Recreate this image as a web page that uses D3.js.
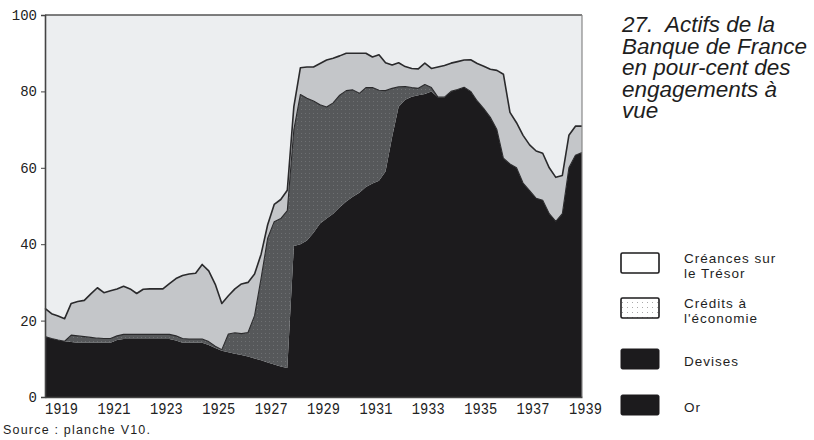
<!DOCTYPE html>
<html><head><meta charset="utf-8">
<script src="https://cdn.jsdelivr.net/npm/d3@7"></script>
<style>
html,body{margin:0;padding:0;background:#fff;}
svg{display:block;}
</style></head>
<body>
<svg id="chart" width="814" height="440"></svg>
<script>
// quarterly observations from mid-1918 to 1939
const startYear = 1918.5;
const step = 0.25;
const or = [15.8,15.3,14.9,14.6,14.4,14.2,14.2,14.2,14.2,14.2,14.2,14.9,
  15.2,15.2,15.2,15.2,15.2,15.2,15.2,15.2,14.8,14.2,14.2,14.2,14.2,13.6,12.8,12.1,
  11.7,11.3,11.0,10.6,10.1,9.6,9.0,8.5,8.0,7.6,39.5,40,41,43,45.4,46.7,48,49.7,
  51.2,52.4,53.5,55,55.9,56.6,59,68,76,77.8,78.6,79,79.3,80,78.5,78.5,80,80.5,81.1,
  80,77.5,75.5,73.2,70,62.5,61,60,56,54,52,51.5,48,46,48,60,63.3,64];
const devises = [0,0,0,0,1.8,1.8,1.6,1.4,1.2,1.1,1.1,1.1,
  1.2,1.2,1.2,1.2,1.2,1.2,1.2,1.2,1.2,1.1,1.0,1.0,1.0,0.9,0.5,0.3,
  4.8,5.5,5.6,6.3,11.2,21.5,32.6,37.4,38.7,41.2,30.5,39.2,37.2,34.5,31.1,29.2,29,29.3,
  29,28,26,26,25.1,23.7,21.2,12.8,5.2,3.5,2.4,1.8,2.5,1.0,0,0,0,0,0,
  0,0,0,0,0,0,0,0,0,0,0,0,0,0,0,0,0,0];
const credits = [7.4,6.5,6.3,5.9,8.3,9.0,9.5,11.4,13.2,12.0,12.5,12.3,
  12.6,11.9,10.7,11.8,11.9,11.9,11.9,13.3,15.0,16.5,17.0,17.2,19.5,18.5,16.2,12.1,
  10.0,11.5,13.0,13.1,10.9,6.3,3.5,4.5,5.0,5.3,6.0,7.0,8.2,8.9,10.8,12.3,11.7,10.3,
  9.8,9.6,10.5,9.0,8.0,9.3,7.3,6.1,6.3,5.2,5.0,5.1,5.6,5.0,7.9,8.3,7.4,7.3,7.1,
  8.3,9.8,11.1,12.6,15.5,22,13.5,11.8,12.5,12,12.4,12.3,12,11.5,10,8.5,7.6,6.9];
const xTicks = [1919,1921,1923,1925,1927,1929,1931,1933,1935,1937,1939];
const yTicks = [0,20,40,60,80,100];
const titleLines = ["27.  Actifs de la","Banque de France","en pour-cent des","engagements à","vue"];
const legendItems = [["Créances sur","le Trésor"],["Crédits à","l'économie"],["Devises"],["Or"]];
const sourceText = "Source : planche V10.";

const data = or.map((v,i)=>({year:startYear+i*step, or:v, devises:devises[i], credits:credits[i]}));

const svg = d3.select("#chart");
const L=45, R=582, T=15, B=397;
const x = d3.scaleLinear().domain([1918.5,1939]).range([L,R]);
const y = d3.scaleLinear().domain([0,100]).range([B,T]);

const defs = svg.append("defs");
const pat = defs.append("pattern").attr("id","dots").attr("width",4).attr("height",4)
  .attr("patternUnits","userSpaceOnUse");
pat.append("rect").attr("width",4).attr("height",4).attr("fill","#56585a");
pat.append("rect").attr("x",1).attr("y",1).attr("width",1).attr("height",1).attr("fill","#6e7072");
const pat2 = defs.append("pattern").attr("id","dots2").attr("width",5).attr("height",5)
  .attr("patternUnits","userSpaceOnUse");
pat2.append("rect").attr("width",5).attr("height",5).attr("fill","#fff");
pat2.append("rect").attr("x",2).attr("y",2).attr("width",1).attr("height",1).attr("fill","#aaa");

// plot background
svg.append("rect").attr("x",L).attr("y",T).attr("width",R-L).attr("height",B-T).attr("fill","#eceef0");

const keys = ["or","devises","credits"];
const fills = {or:"#1c1b1d", devises:"url(#dots)", credits:"#c4c6c9"};
const stack = d3.stack().keys(keys)(data);
const area = d3.area().x(d=>x(d.data.year)).y0(d=>y(d[0])).y1(d=>y(d[1]));
svg.append("g").selectAll("path").data(stack).join("path")
  .attr("d",area).attr("fill",d=>fills[d.key]);
const line = d3.line().x(d=>x(d.data.year)).y(d=>y(d[1]));
svg.append("g").selectAll("path").data(stack.filter(s=>s.key!=="or")).join("path")
  .attr("d",line).attr("fill","none").attr("stroke","#2a2a2c")
  .attr("stroke-width",d=>d.key==="credits"?1.6:1.1).attr("stroke-linejoin","round");

// frame
svg.append("line").attr("x1",L).attr("x2",R).attr("y1",T).attr("y2",T).attr("stroke","#555").attr("stroke-width",1.5);
svg.append("line").attr("x1",R).attr("x2",R).attr("y1",T).attr("y2",B).attr("stroke","#888").attr("stroke-width",1.2);

// axes
const yAxis = d3.axisLeft(y).tickValues(yTicks).tickSize(4).tickPadding(4);
const gy = svg.append("g").attr("transform",`translate(${L},0)`).call(yAxis);
gy.select(".domain").attr("stroke","#444").attr("stroke-width",1.6);
gy.selectAll(".tick line").attr("stroke","#444");
gy.selectAll("text").attr("font-family","Liberation Mono, monospace").attr("font-size",14).attr("fill","#222");

const xAxis = d3.axisBottom(x).tickValues(xTicks).tickSize(0).tickPadding(5).tickFormat(d3.format("d"));
const gx = svg.append("g").attr("transform",`translate(0,${B})`).call(xAxis);
gx.select(".domain").attr("stroke","#444").attr("stroke-width",1.4);
gx.selectAll("text").attr("font-family","Liberation Mono, monospace").attr("font-size",17)
  .attr("fill","#222").attr("dx",3).attr("textLength",33).attr("lengthAdjust","spacingAndGlyphs");

// title
const title = svg.append("text").attr("font-family","Liberation Sans, Arial, sans-serif")
  .attr("font-style","italic").attr("font-size",22.5).attr("fill","#1e1e1e")
  .style("white-space","pre");
titleLines.forEach((t,i)=>title.append("tspan").attr("x",622).attr("y",32+i*21.5).text(t));

// legend
const boxY = [253,298,349,395];
const lg = svg.append("g");
legendItems.forEach((lines,i)=>{
  const by = boxY[i];
  lg.append("rect").attr("x",621).attr("y",by).attr("width",38).attr("height",20).attr("rx",1.5)
    .attr("fill", i===0?"#fff":(i===1?"url(#dots2)":"#1c1b1d"))
    .attr("stroke","#1c1b1d").attr("stroke-width",i<2?1.6:1);
  const t = lg.append("text").attr("font-family","Liberation Sans, Arial, sans-serif")
    .attr("font-size",13.5).attr("letter-spacing",1).attr("fill","#1e1e1e");
  if(lines.length===2){
    t.append("tspan").attr("x",684).attr("y",by+10).text(lines[0]);
    t.append("tspan").attr("x",684).attr("y",by+25).text(lines[1]);
  } else {
    t.append("tspan").attr("x",684).attr("y",by+17).text(lines[0]);
  }
});

// source
svg.append("text").attr("x",3).attr("y",434).attr("font-family","Liberation Sans, Arial, sans-serif")
  .attr("font-size",12.5).attr("letter-spacing",1.2).attr("fill","#1e1e1e").text(sourceText);
</script>
</body></html>
